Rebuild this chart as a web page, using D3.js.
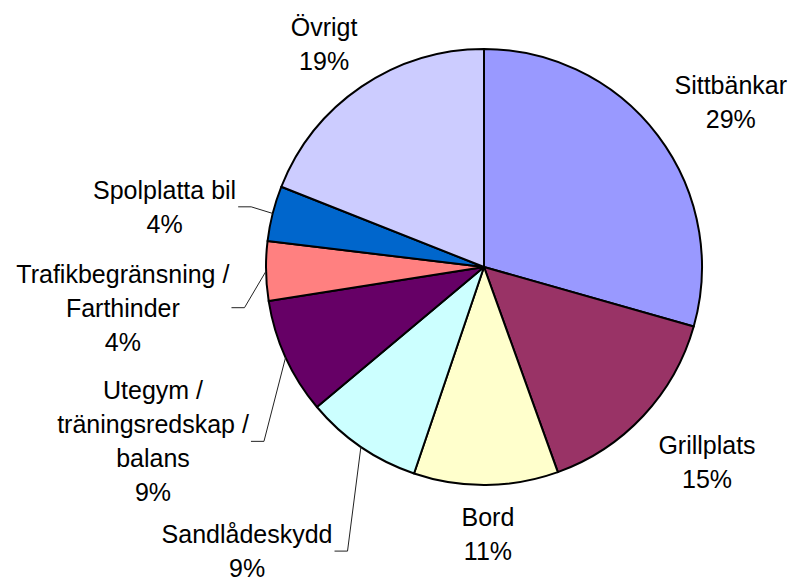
<!DOCTYPE html>
<html>
<head>
<meta charset="utf-8">
<script src="https://cdn.jsdelivr.net/npm/d3@7"></script>
<style>
    html, body { margin: 0; background: #fff; }
    text { font-family: "Liberation Sans", Arial, sans-serif; font-size: 25px; fill: #000; }
</style>
</head>
<body>
<script>
    // data
    const categories = ["Sittbänkar", "Grillplats", "Bord", "Sandlådeskydd",
        "Utegym / träningsredskap / balans", "Trafikbegränsning / Farthinder",
        "Spolplatta bil", "Övrigt"];
    const values = [29.4, 15.1, 10.7, 8.7, 8.6, 4.4, 4.1, 19.0];
    const colors = ["#9999FF", "#993366", "#FFFFCC", "#CCFFFF", "#660066", "#FF8080", "#0066CC", "#CCCCFF"];

    // label placement: distance from centre (x radius) and angle nudge (deg)
    const labelDist = [1.362, 1.359, 1.225, 1.697, 1.716, 1.667, 1.491, 1.26];
    const labelNudge = [3.3, -1.85, -0.3, 5.45, -3.3, -5.35, -3.55, -1.4];
    const hasLeader = [false, false, false, true, true, true, true, false];

    const width = 789, height = 583;
    const cx = 484, cy = 267, r = 218;
    const lineH = 34;

    const svg = d3.select('body').append('svg')
        .attr('width', width)
        .attr('height', height);

    const g = svg.append('g').attr('transform', `translate(${cx},${cy})`);

    const rows = categories.map((c, i) => ({ name: c, value: values[i], color: colors[i], i: i }));
    const total = d3.sum(values);

    const pie = d3.pie().sort(null).value(d => d.value);
    const arc = d3.arc().innerRadius(0).outerRadius(r);
    const arcs = pie(rows);

    g.selectAll('path.slice')
        .data(arcs)
        .enter().append('path')
        .attr('class', 'slice')
        .attr('d', arc)
        .attr('fill', d => d.data.color)
        .attr('stroke', '#000')
        .attr('stroke-width', 2)
        .attr('stroke-linejoin', 'round');

    const polar = (a, rad) => [Math.sin(a) * rad, -Math.cos(a) * rad];

    arcs.forEach(d => {
        const i = d.data.i;
        const mid = (d.startAngle + d.endAngle) / 2;
        const [lx, ly] = polar(mid + labelNudge[i] * Math.PI / 180, r * labelDist[i]);

        // break after each " / " like the original labels
        const lines = d.data.name.split('/ ').map((s, k, arr) => k < arr.length - 1 ? s + '/' : s);
        lines.push(Math.round(d.data.value / total * 100) + '%');

        const t = g.append('text')
            .attr('text-anchor', 'middle');
        const top = ly - (lines.length - 1) * lineH / 2 + 9;
        lines.forEach((s, k) => {
            t.append('tspan')
                .attr('x', lx)
                .attr('y', top + k * lineH)
                .text(s);
        });

        if (hasLeader[i]) {
            const bb = t.node().getBBox();
            const [ex, ey] = polar(mid, r);
            const x0 = bb.x + bb.width + 2;
            const pts = [[x0, ly], [x0 + 13, ly], [ex, ey]];
            g.append('path')
                .attr('d', d3.line()(pts))
                .attr('fill', 'none')
                .attr('stroke', '#222')
                .attr('stroke-width', 1);
        }
    });
</script>
</body>
</html>
